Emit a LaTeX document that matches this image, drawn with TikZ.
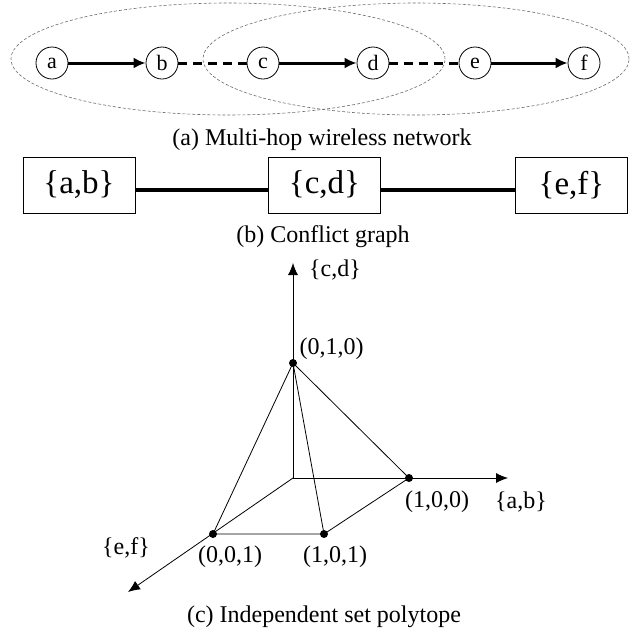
\documentclass[tikz,border=0pt]{standalone}
\usepackage{fontspec}
\setmainfont{Liberation Serif}
\usetikzlibrary{arrows.meta}
\tikzset{
  host/.style={circle,draw,line width=0.8pt,minimum size=32pt,inner sep=0pt,font=\fontsize{22}{26}\selectfont},
  link/.style={line width=3pt,-{Latex[length=12pt,width=11pt]}},
  hidden/.style={line width=3pt,dash pattern=on 9pt off 6pt},
  reach/.style={draw=gray!85!black,line width=0.6pt,dash pattern=on 3pt off 2pt},
  clique/.style={draw,line width=0.8pt,minimum width=112pt,minimum height=56pt,inner sep=0pt,font=\fontsize{33}{38}\selectfont},
  conflict/.style={line width=4pt},
  axis/.style={line width=0.8pt,-{Latex[length=12pt,width=10pt]}},
  vertex/.style={circle,fill,inner sep=0pt,minimum size=8pt},
  lbl/.style={font=\fontsize{24}{28}\selectfont},
}
\begin{document}
\begin{tikzpicture}[x=1pt,y=-1pt]
      \useasboundingbox (0,0) rectangle (630,633);
      \draw[reach] (228,59) ellipse [x radius=217pt,y radius=56pt];
      \draw[reach] (416,59) ellipse [x radius=213pt,y radius=56pt];
      \node[host] (a) at (52,63) {a};
      \node[host] (b) at (162,63) {b};
      \node[host] (c) at (263,63) {c};
      \node[host] (d) at (373,63) {d};
      \node[host] (e) at (475,63) {e};
      \node[host] (f) at (584,63) {f};
      \draw[link] (a) -- (b);
      \draw[hidden] (b) -- (c);
      \draw[link] (c) -- (d);
      \draw[hidden] (d) -- (e);
      \draw[link] (e) -- (f);
      \node[lbl] (capa) at (322,140) {(a) Multi-hop wireless network};

      \node[clique] (ab) at (79,185) {\{a,b\}};
      \node[clique] (cd) at (324.5,185) {\{c,d\}};
      \node[clique] (ef) at (571.5,185) {\{e,f\}};
      \draw[conflict] ([yshift=-5pt]ab.east) -- ([yshift=-5pt]cd.west);
      \draw[conflict] ([yshift=-5pt]cd.east) -- ([yshift=-5pt]ef.west);
      \node[lbl] (capb) at (323,237) {(b) Conflict graph};

      \coordinate (o) at (293,478);
      \coordinate (ycd) at (293,263);
      \coordinate (xab) at (508,478);
      \coordinate (zef) at (128,592);
      \draw[axis] (o) -- (ycd);
      \draw[axis] (o) -- (xab);
      \draw[axis] (o) -- (zef);
      \node[vertex] (p010) at (293,363) {};
      \node[vertex] (p100) at (409,478) {};
      \node[vertex] (p001) at (213,534) {};
      \node[vertex] (p101) at (324,534) {};
      \draw[line width=0.8pt] (p010.center) -- (p001.center) -- (p101.center) -- (p100.center) -- cycle;
      \draw[line width=0.8pt] (p010.center) -- (p101.center);
      \node[lbl] at (335,270) {\{c,d\}};
      \node[lbl,anchor=west] at (296,349) {(0,1,0)};
      \node[lbl] at (437,502) {(1,0,0)};
      \node[lbl] at (521,502) {\{a,b\}};
      \node[lbl] at (230,557) {(0,0,1)};
      \node[lbl] at (335,557) {(1,0,1)};
      \node[lbl] at (126,548) {\{e,f\}};
      \node[lbl] (capc) at (324,617) {(c) Independent set polytope};
    \end{tikzpicture}
\end{document}
